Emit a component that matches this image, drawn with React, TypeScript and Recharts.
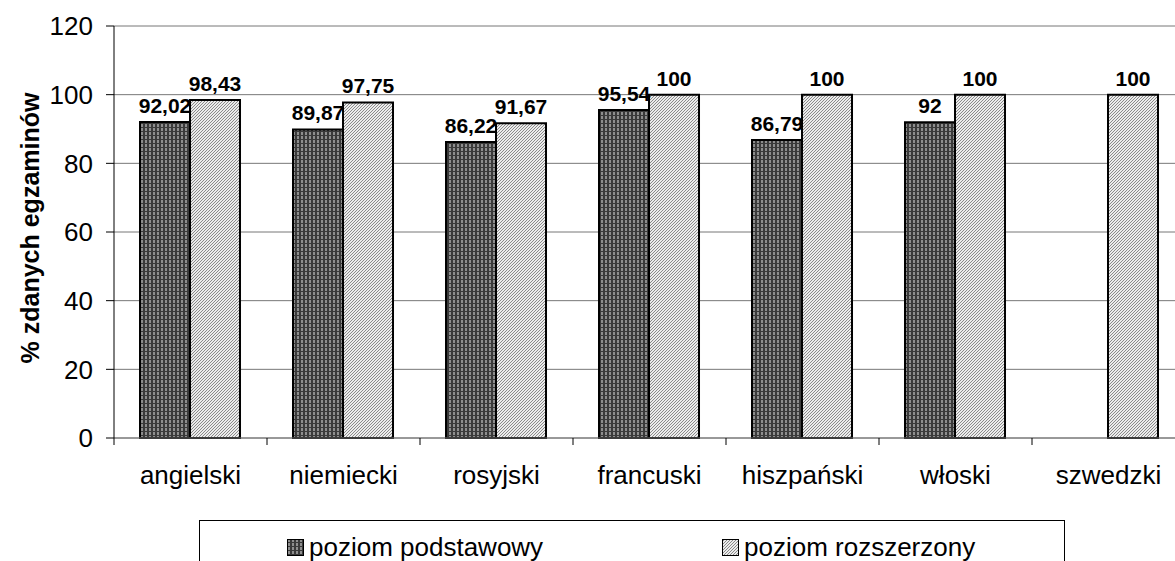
import { BarChart, Bar, XAxis, YAxis, CartesianGrid, LabelList } from 'recharts'

const languages = ['angielski', 'niemiecki', 'rosyjski', 'francuski', 'hiszpański', 'włoski', 'szwedzki']
const basicLevel = [92.02, 89.87, 86.22, 95.54, 86.79, 92, null]
const extendedLevel = [98.43, 97.75, 91.67, 100, 100, 100, 100]
const yTicks = [0, 20, 40, 60, 80, 100, 120]
const seriesNames = ['poziom podstawowy', 'poziom rozszerzony']
const yTitle = '% zdanych egzaminów'

const data = languages.map((name, i) => ({
  name,
  basic: basicLevel[i],
  extended: extendedLevel[i],
}))

const font = '"Liberation Sans", Arial, sans-serif'

const fmt = (v: any) => (v == null ? '' : String(v).replace('.', ','))

const labelStyle = { fill: '#000', fontSize: 21, fontWeight: 700, fontFamily: font }

const X_TICK_SIZE = 6
const X_TICK_MARGIN = 22

function Patterns() {
  return (
    <svg width={0} height={0} style={{ position: 'absolute' }}>
      <defs>
        <pattern id="patBasic" width={4} height={4} patternUnits="userSpaceOnUse">
          <rect width={4} height={4} fill="#3a3a3a" />
          <rect x={1} y={0} width={2} height={3} fill="#8e8e8e" />
        </pattern>
        <pattern id="patExtended" width={3} height={3} patternUnits="userSpaceOnUse">
          <rect width={3} height={3} fill="#ececec" />
          <rect x={0} y={2} width={1} height={1} fill="#8a8a8a" />
          <rect x={1} y={1} width={1} height={1} fill="#8a8a8a" />
          <rect x={2} y={0} width={1} height={1} fill="#8a8a8a" />
        </pattern>
      </defs>
    </svg>
  )
}

function YTitle(props: any) {
  const vb = props.viewBox
  const cx = 30
  const cy = vb.y + vb.height / 2 - 4
  return (
    <text
      x={cx}
      y={cy}
      transform={`rotate(-90 ${cx} ${cy})`}
      textAnchor="middle"
      dominantBaseline="central"
      style={{ fontSize: 25, fontWeight: 700, fontFamily: font, fill: '#000' }}
    >
      {yTitle}
    </text>
  )
}

// category label plus the small tick marks on the category boundaries
function CategoryTick(props: any) {
  const { x, y, payload, index } = props
  const half = payload && payload.offset ? payload.offset : 76.5
  const axisY = y - X_TICK_SIZE - X_TICK_MARGIN
  return (
    <g>
      <line x1={x - half} x2={x - half} y1={axisY} y2={axisY + 7} stroke="#000" />
      {index === languages.length - 1 && (
        <line x1={x + half} x2={x + half} y1={axisY} y2={axisY + 7} stroke="#000" />
      )}
      <text
        x={x}
        y={y}
        dy="0.71em"
        textAnchor="middle"
        style={{ fill: '#000', fontSize: 26, fontFamily: font }}
      >
        {payload.value}
      </text>
    </g>
  )
}

function LegendBox() {
  const item = (left: number, fill: string, text: string) => (
    <div style={{ position: 'absolute', left, top: 13, display: 'flex', alignItems: 'center' }}>
      <svg width={17} height={17} style={{ marginRight: 5 }}>
        <rect x={0.5} y={0.5} width={16} height={16} fill={fill} stroke="#000" />
      </svg>
      <span style={{ fontSize: 26, fontFamily: font, color: '#000', lineHeight: '26px' }}>{text}</span>
    </div>
  )
  return (
    <div
      style={{
        position: 'absolute',
        left: 199,
        top: 520,
        width: 866,
        height: 60,
        border: '1px solid #000',
        boxSizing: 'border-box',
      }}
    >
      {item(87, 'url(#patBasic)', seriesNames[0])}
      {item(522, 'url(#patExtended)', seriesNames[1])}
    </div>
  )
}

export default function App() {
  return (
    <div
      style={{
        position: 'fixed',
        left: 0,
        top: 0,
        width: 1175,
        height: 561,
        overflow: 'hidden',
        background: '#fff',
      }}
    >
      <Patterns />
      <BarChart
        width={1200}
        height={561}
        data={data}
        margin={{ top: 26, right: 15, left: 0, bottom: 0 }}
        barCategoryGap="17%"
        barGap={0}
      >
        <CartesianGrid vertical={false} stroke="#777" />
        <XAxis
          dataKey="name"
          height={123}
          tickLine={false}
          tickSize={X_TICK_SIZE}
          tickMargin={X_TICK_MARGIN}
          axisLine={{ stroke: '#777' }}
          tick={CategoryTick}
          interval={0}
        />
        <YAxis
          width={114}
          domain={[0, 120]}
          ticks={yTicks}
          tickSize={8}
          tickMargin={13}
          stroke="#000"
          tick={{ fill: '#000', fontSize: 26, fontFamily: font }}
          label={{ content: YTitle }}
        />
        <Bar
          dataKey="basic"
          name={seriesNames[0]}
          fill="url(#patBasic)"
          stroke="#000"
          strokeWidth={2}
          isAnimationActive={false}
        >
          <LabelList dataKey="basic" position="top" offset={9} formatter={fmt} style={labelStyle} />
        </Bar>
        <Bar
          dataKey="extended"
          name={seriesNames[1]}
          fill="url(#patExtended)"
          stroke="#000"
          strokeWidth={2}
          isAnimationActive={false}
        >
          <LabelList dataKey="extended" position="top" offset={9} formatter={fmt} style={labelStyle} />
        </Bar>
      </BarChart>
      <LegendBox />
    </div>
  )
}
